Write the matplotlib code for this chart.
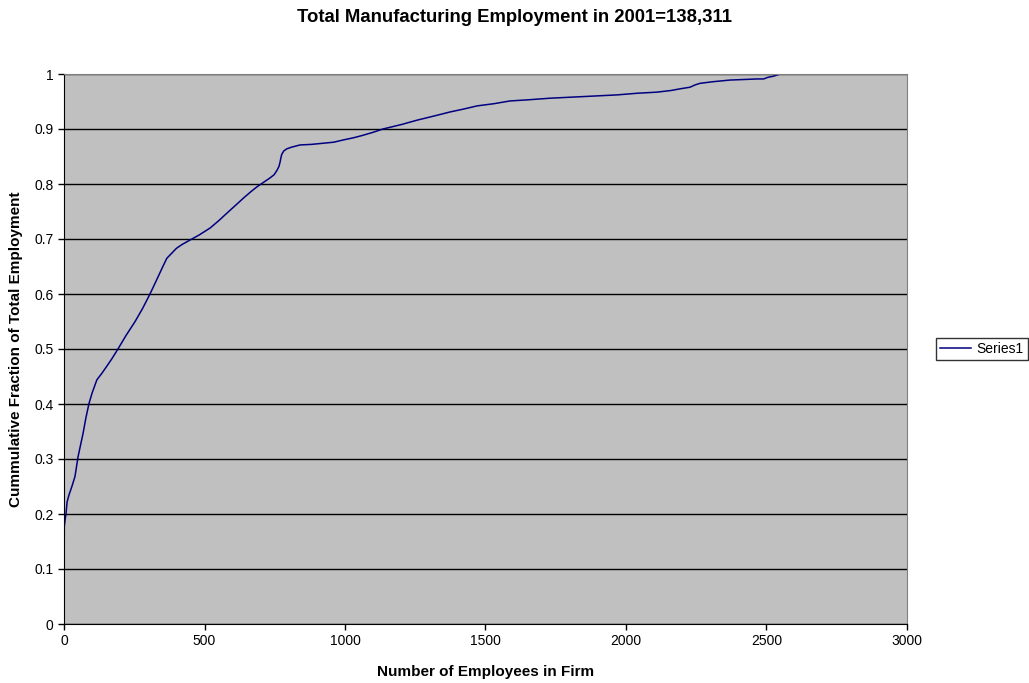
import matplotlib
matplotlib.use('Agg')
import matplotlib.pyplot as plt

plt.rcParams['font.family'] = ['Liberation Sans', 'DejaVu Sans']

# Number of employees in firm (x) vs cumulative fraction of total employment (y)
employees = [0, 1, 4, 7, 11, 18, 28, 39, 50, 60, 68, 78, 89, 100, 117, 135, 150,
             170, 192, 220, 253, 280, 306, 330, 350, 366, 385, 400, 420, 448,
             480, 520, 550, 584, 610, 640, 665, 687, 710, 733, 748, 758, 765,
             769, 772, 775, 782, 793, 810, 840, 880, 920, 960, 993, 1030, 1060,
             1100, 1135, 1200, 1256, 1320, 1374, 1420, 1470, 1530, 1587, 1650,
             1730, 1850, 1968, 2040, 2110, 2160, 2192, 2228, 2245, 2263, 2310,
             2370, 2420, 2466, 2490, 2505, 2525, 2548]
cum_fraction = [0, 0.177, 0.19, 0.2, 0.222, 0.235, 0.25, 0.268, 0.304, 0.328,
                0.347, 0.375, 0.401, 0.42, 0.444, 0.456, 0.467, 0.482, 0.5,
                0.524, 0.55, 0.574, 0.6, 0.626, 0.648, 0.665, 0.675, 0.683,
                0.69, 0.698, 0.707, 0.72, 0.733, 0.749, 0.761, 0.775, 0.786,
                0.795, 0.803, 0.811, 0.817, 0.825, 0.832, 0.84, 0.848, 0.854,
                0.86, 0.864, 0.867, 0.871, 0.872, 0.874, 0.876, 0.88, 0.884,
                0.888, 0.894, 0.9, 0.908, 0.916, 0.924, 0.931, 0.936, 0.942,
                0.946, 0.951, 0.953, 0.956, 0.959, 0.962, 0.965, 0.967, 0.97,
                0.973, 0.976, 0.98, 0.983, 0.986, 0.989, 0.99, 0.991, 0.991,
                0.994, 0.996, 1.0]

fig = plt.figure(figsize=(10.29, 6.83), dpi=100)
ax = fig.add_axes([64/1029, 1 - 624/683, (907-64)/1029, (624-74)/683])
ax.set_facecolor('#c0c0c0')

line, = ax.plot(employees, cum_fraction, color='#000080', linewidth=1.1, label='Series1')

ax.set_xlim(0, 3000)
ax.set_ylim(0, 1)
ax.set_xticks(range(0, 3001, 500))
ax.set_yticks([i / 10 for i in range(11)])
ax.set_yticklabels(['0', '0.1', '0.2', '0.3', '0.4', '0.5', '0.6', '0.7', '0.8', '0.9', '1'])
ax.tick_params(labelsize=10, length=4, direction='out', width=1)

ax.yaxis.grid(True, color='black', linewidth=1)
ax.set_axisbelow(True)
for s in ['top', 'right']:
    ax.spines[s].set_color('#808080')
for s in ['left', 'bottom']:
    ax.spines[s].set_color('black')

ax.set_xlabel('Number of Employees in Firm', fontsize=11, fontweight='bold', labelpad=12)
ax.set_ylabel('Cummulative Fraction of Total Employment', fontsize=11, fontweight='bold', labelpad=8)
fig.text(0.5, 1 - 18/683, 'Total Manufacturing Employment in 2001=138,311',
         ha='center', va='center', fontsize=13.3, fontweight='bold')

leg = fig.legend(handles=[line], loc='center left', bbox_to_anchor=(936/1029, 1 - 349/683),
                 fontsize=10, frameon=True, fancybox=False, edgecolor='black',
                 handlelength=2.2, handletextpad=0.4, borderpad=0.3, borderaxespad=0)
leg.get_frame().set_linewidth(1)

fig.savefig('out.png', dpi=100)
